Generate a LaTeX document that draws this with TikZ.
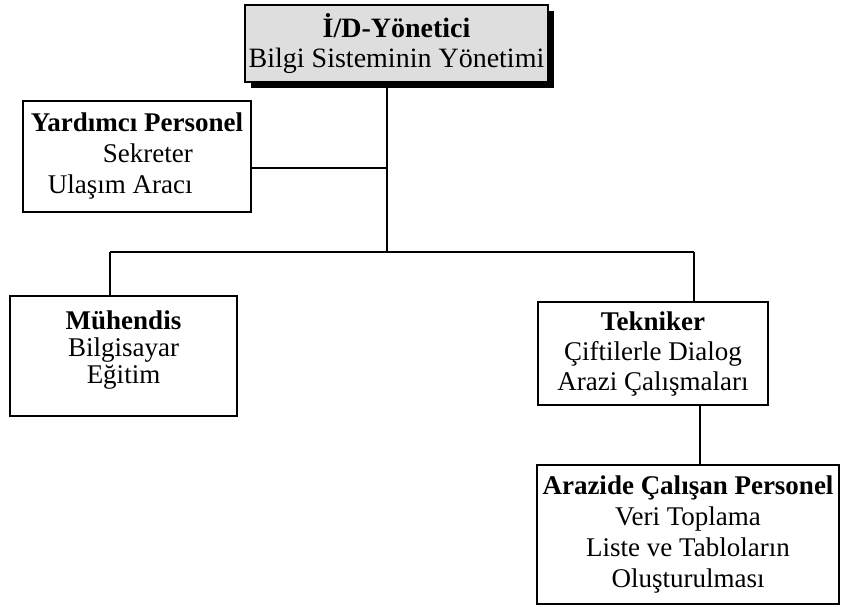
\documentclass[tikz,border=0pt]{standalone}
\usepackage{fontspec}
\setmainfont{Liberation Serif}
\usetikzlibrary{shadows}
\begin{document}
\begin{tikzpicture}[x=1pt,y=-1pt,
  box/.style={draw,line width=1.6pt,inner sep=0pt,align=center,
    font=\fontsize{27}{30}\selectfont},
  conn/.style={line width=1.6pt},
]
\useasboundingbox (0,0) rectangle (841,606);

% head of the unit, with a solid drop shadow
\node[box, minimum width=303pt, minimum height=77pt, fill=black!13,
  font=\fontsize{28}{30}\selectfont,
  drop shadow={shadow xshift=6pt, shadow yshift=-6pt, fill=black, opacity=1}]
  (mgr) at (396.5,43.5) {\textbf{İ/D-Yönetici}\\Bilgi Sisteminin Yönetimi};

% support staff
\node[box, align=left, minimum width=228pt, minimum height=111pt,
  font=\fontsize{27}{31}\selectfont]
  (yard) at (137,156.5)
  {\textbf{Yardımcı Personel}\\\hspace*{72pt}Sekreter\\\hspace*{17pt}Ulaşım Aracı};

% engineer
\node[box, minimum width=227pt, minimum height=120pt,
  font=\fontsize{27}{27}\selectfont]
  (muh) at (123.5,356) {\textbf{Mühendis}\\Bilgisayar\\Eğitim\rule[-18pt]{0pt}{0pt}};

% technician
\node[box, minimum width=230pt, minimum height=103pt]
  (tek) at (653,353.5) {\textbf{Tekniker}\\Çiftilerle Dialog\\Arazi Çalışmaları};

% field staff
\node[box, minimum width=302pt, minimum height=139pt,
  font=\fontsize{27}{31}\selectfont]
  (araz) at (688,534.5)
  {\textbf{Arazide Çalışan Personel}\\Veri Toplama\\Liste ve Tabloların\\Oluşturulması};

% branching points
\coordinate (hub) at (387,168);
\coordinate (bus) at (387,252);
\coordinate (busL) at (110,252);
\coordinate (busR) at (694,252);
\coordinate (drop) at (700,435);

\draw[conn] (mgr.south -| hub) -- (bus);
\draw[conn] (yard.east |- hub) -- (hub);
\draw[conn] (busL) -- (busR);
\draw[conn] (busL) -- (muh.north -| busL);
\draw[conn] (busR) -- (tek.north -| busR);
\draw[conn] (tek.south -| drop) -- (araz.north -| drop);
\end{tikzpicture}
\end{document}
